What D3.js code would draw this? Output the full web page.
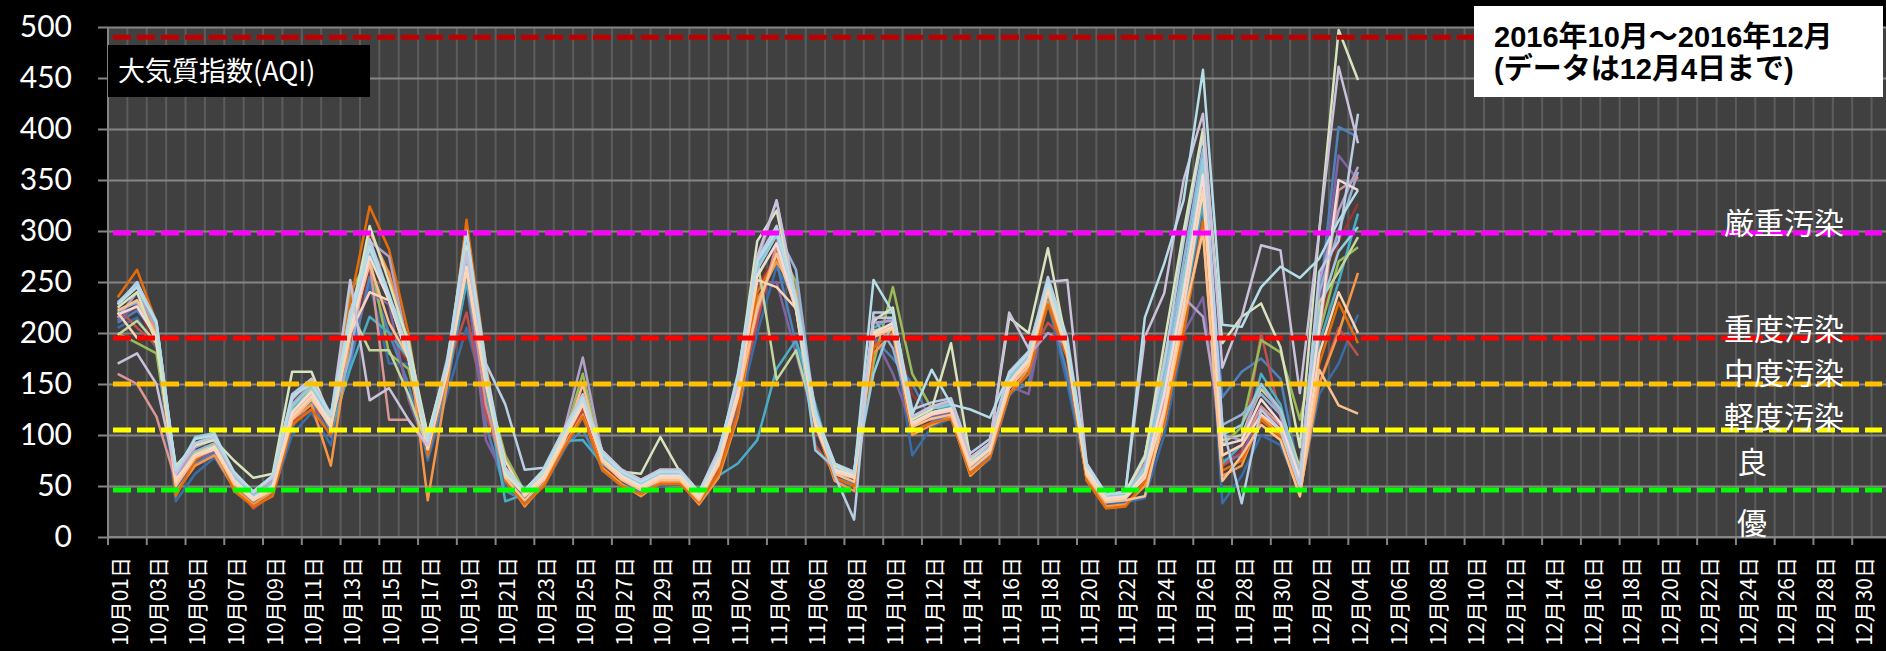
<!DOCTYPE html>
<html><head><meta charset="utf-8">
<script src="https://cdn.jsdelivr.net/npm/d3@7"></script>
<style>html,body{margin:0;padding:0;background:#000;overflow:hidden}</style>
</head><body>
<svg id="chart" width="1886" height="651"></svg>
<script>
// ---- categories / ticks ----
const months = [["10月",31],["11月",30],["12月",31]];
const dates = [];
months.forEach(([m,n]) => { for (let d = 1; d <= n; d++) dates.push(m + String(d).padStart(2,"0") + "日"); });
const yTicks = [0,50,100,150,200,250,300,350,400,450,500];

// ---- AQI level thresholds ----
const thresholdValues = [490,298,195,150,105,46];
const thresholdColors = ["#C00000","#FF00FF","#FF0000","#FFC000","#FFFF00","#00FF00"];
const levelNames = ["厳重汚染","重度汚染","中度汚染","軽度汚染","良","優"];

// ---- series (daily AQI, 10/01 .. 12/04) ----
const s01 = [210,222,200,45,72,82,50,35,42,108, 132,98,170,255,200,150,78,148,250,110, 45,36,52,88,105,68,52,44,52,56, 36,68,128,240,270,190,108,58,52,195, 175,150,114,118,64,80,142,150,232,160, 58,34,38,66,120,250,360,137,162,175, 155,58,230,402,392];
const s02 = [225,205,188,52,80,88,52,28,42,112, 125,118,205,278,260,182,92,165,220,120, 62,40,58,90,126,72,58,48,55,60, 36,66,132,210,290,232,90,62,58,188, 204,108,120,124,68,86,150,176,210,192, 62,36,40,62,132,228,330,70,82,200, 118,55,150,205,178];
const s03 = [200,190,180,58,82,90,58,38,48,125, 150,112,240,275,180,165,88,160,262,150, 80,44,62,96,160,78,62,52,62,62, 40,78,145,255,288,250,112,66,60,170, 245,160,126,128,72,90,152,172,244,178, 66,38,42,78,175,260,325,90,108,193, 181,115,200,270,284];
const s04 = [212,228,194,50,76,84,54,36,46,118, 138,106,196,240,228,135,84,158,258,95, 58,40,58,92,138,74,58,48,58,58, 38,72,138,248,250,180,108,64,58,198, 160,108,118,122,70,84,148,140,238,182, 64,38,40,58,130,200,235,75,80,125, 105,50,220,374,350];
const s05 = [220,232,205,52,92,100,58,40,55,128, 142,104,165,216,200,175,82,155,250,145, 35,42,60,94,95,72,58,48,56,58, 38,60,72,95,165,193,130,62,58,205, 215,110,122,128,70,82,152,175,236,185, 62,38,40,62,115,220,330,72,90,160, 130,55,190,250,317];
const s06 = [228,245,200,44,70,80,48,32,45,115, 130,70,195,300,258,190,36,150,290,160, 58,30,52,88,120,68,52,40,54,54, 32,58,118,232,270,240,112,55,45,180, 200,100,110,118,60,78,140,165,230,176, 56,30,32,50,110,210,300,60,70,118, 100,42,150,200,259];
const s07 = [235,262,210,40,75,92,45,30,40,110, 125,100,230,324,282,200,80,160,311,170, 55,32,50,86,118,66,50,42,52,52, 34,62,120,240,275,235,110,58,50,185, 205,104,112,116,62,78,140,160,228,175, 55,28,30,55,112,200,310,65,75,115, 98,40,170,230,190];
const s08 = [205,215,185,35,62,78,48,34,42,100, 122,90,180,248,170,170,75,140,205,135, 50,34,50,84,118,65,50,42,50,52, 36,64,120,200,265,230,115,55,50,180, 200,80,108,116,62,76,138,160,230,150, 60,32,34,38,100,195,320,33,60,100, 90,45,140,170,218];
const s09 = [222,230,198,56,84,92,56,40,52,130, 150,112,178,288,232,178,92,170,292,160, 64,44,62,100,135,80,62,52,62,62, 40,80,148,265,300,262,118,70,62,215, 185,118,128,130,76,90,158,178,248,190, 68,40,42,70,160,270,380,110,120,140, 120,62,240,300,358];
const s10 = [160,150,118,55,80,86,56,38,48,118, 140,112,198,270,115,115,88,162,262,130, 60,42,58,94,130,76,60,50,60,60, 40,76,142,220,285,222,108,66,62,200, 206,110,120,124,70,85,150,172,250,178, 64,38,40,60,130,230,350,80,90,128, 110,58,200,340,353];
const s11 = [198,212,190,60,82,90,60,40,50,122, 145,112,222,183,183,140,88,165,265,152, 62,42,62,98,132,78,62,52,62,62, 42,78,142,272,154,183,112,66,62,202, 208,112,122,126,72,86,150,172,242,182, 66,40,42,64,150,245,360,95,100,145, 125,68,230,260,294];
const s12 = [215,240,205,58,88,96,60,42,55,130, 150,118,215,290,275,185,95,175,280,160, 66,46,66,102,176,82,64,54,64,64, 42,82,150,270,330,230,120,70,62,210, 212,118,128,132,78,92,158,178,200,188, 70,40,42,72,140,235,216,100,95,150, 120,62,250,320,363];
const s13 = [230,248,212,62,98,102,60,40,52,128, 148,115,210,282,235,195,90,168,275,155, 62,44,62,98,134,80,62,52,62,62, 40,80,146,262,296,226,85,68,60,160, 212,116,126,130,74,88,156,176,246,186, 68,40,42,68,150,255,370,100,110,150, 125,60,220,280,304];
const s14 = [222,232,198,50,78,86,52,36,46,115, 135,108,200,268,210,176,86,160,262,150, 58,36,56,92,150,74,56,46,56,56, 36,70,136,225,278,224,110,62,54,196, 204,108,116,120,66,82,146,168,240,180, 60,34,36,40,120,215,300,55,80,110, 95,40,164,129,121];
const s15 = [228,250,210,65,90,96,62,45,60,140, 155,120,220,292,238,182,100,172,300,170, 130,66,68,105,138,85,66,56,66,66, 44,85,152,272,305,235,125,60,17,220, 220,125,132,136,82,96,162,182,255,195, 72,42,44,80,170,290,395,110,33,125, 105,50,260,290,415];
const s16 = [218,226,195,56,80,88,56,38,50,122, 142,112,202,275,232,175,88,165,265,152, 62,42,60,96,132,76,60,50,60,60, 40,76,142,256,288,224,112,66,60,200, 210,112,122,126,72,86,152,174,244,184, 66,38,40,62,140,240,355,90,95,135, 112,58,205,350,340];
const s17 = [225,240,190,70,90,95,75,58,62,162, 162,115,210,305,250,190,100,170,285,158, 60,46,64,100,136,84,64,62,98,64, 42,82,155,290,320,230,120,70,62,212, 225,115,125,190,76,92,215,200,283,185, 70,42,44,78,190,300,400,190,216,229, 186,88,300,497,448];
const s18 = [170,180,150,62,92,98,62,44,58,135, 155,118,252,134,146,115,90,170,280,165, 68,46,66,104,140,84,66,56,66,66, 44,84,150,275,330,235,122,72,64,215, 215,118,128,134,78,92,220,185,250,252, 72,42,44,196,239,350,415,166,216,286, 281,141,300,461,386];
const s19 = [228,245,210,66,96,100,64,44,60,138, 150,120,215,285,236,180,95,170,300,162, 66,46,66,102,136,82,64,54,64,64, 44,80,160,270,300,232,120,72,62,252, 220,120,164,130,125,117,160,180,250,190, 70,42,44,215,268,330,458,208,206,245, 265,254,273,310,340];
const s20 = [220,195,196,54,80,86,54,36,48,118, 138,108,200,240,232,176,86,162,262,150, 75,40,58,94,130,76,58,48,58,58, 38,72,138,252,245,224,110,64,58,198, 206,110,120,124,70,86,150,172,244,180, 62,36,38,58,125,225,340,80,90,120, 105,50,180,240,200];
const s21 = [215,225,190,50,74,84,50,34,44,112, 130,104,192,262,195,172,80,155,255,105, 56,38,56,90,124,70,56,46,56,56, 36,66,132,246,276,226,108,60,56,192, 206,140,116,120,66,82,146,168,238,155, 60,34,36,58,118,220,320,70,85,125, 108,48,200,290,327];

const series = [s21,s08,s01,s02,s03,s04,s05,s06,s07,s09,s10,s11,s12,s13,s14,s16,s20,s15,s17,s18,s19];
const seriesColors = ["#953735","#3A6CA8","#4F81BD","#C0504D","#9BBB59","#8064A2","#4BACC6","#F79646","#E46C0A",
  "#95B3D7","#D99694","#C3D69B","#B3A2C7","#93CDDD","#FAC090","#F2DCDB","#FCD5B5","#B9CDE5","#D7E4BD","#CCC1DA","#B7DEE8"];

// ---- drawing ----
const W = 1886, H = 651;
const pLeft = 108, pTop = 27, pBottom = 537, pRight = 108 + 92 * 19.38;
const svg = d3.select("#chart");
svg.append("rect").attr("width", W).attr("height", H).attr("fill", "#000");

const x = d3.scaleBand().domain(dates).range([pLeft, pRight]).paddingInner(0).paddingOuter(0);
const y = d3.scaleLinear().domain([0, 500]).range([pBottom, pTop]);
const bw = x.bandwidth();

svg.append("rect").attr("x", pLeft).attr("y", pTop).attr("width", pRight - pLeft).attr("height", pBottom - pTop).attr("fill", "#404040");

// vertical grid at category boundaries
svg.append("g").selectAll("line").data(dates.slice(1)).join("line")
  .attr("x1", d => x(d)).attr("x2", d => x(d)).attr("y1", pTop).attr("y2", pBottom)
  .attr("stroke", "#5c5c5c").attr("stroke-width", 2);

// horizontal grid + y labels
const yAxis = d3.axisLeft(y).tickValues(yTicks).tickSize(0).tickPadding(36).tickFormat(d3.format("d"));
const gy = svg.append("g").attr("transform", `translate(${pLeft},0)`).call(yAxis);
gy.select(".domain").remove();
gy.selectAll(".tick line").attr("x1", -10).attr("x2", pRight - pLeft).attr("stroke", "#858585").attr("stroke-width", 2);
gy.selectAll(".tick text").attr("fill", "#fff").style("font-family", "Lato, 'Open Sans', sans-serif").style("font-size", "30px");

// left axis line and bottom axis
svg.append("line").attr("x1", pLeft).attr("x2", pLeft).attr("y1", pTop).attr("y2", pBottom).attr("stroke", "#858585").attr("stroke-width", 2);
svg.append("line").attr("x1", pLeft).attr("x2", pRight).attr("y1", pBottom).attr("y2", pBottom).attr("stroke", "#858585").attr("stroke-width", 2);

// x ticks at every second boundary
svg.append("g").selectAll("line").data(dates.filter((d, i) => i % 2 === 0)).join("line")
  .attr("x1", d => x(d)).attr("x2", d => x(d)).attr("y1", pBottom).attr("y2", pBottom + 8)
  .attr("stroke", "#858585").attr("stroke-width", 2);

// x labels (every second day)
svg.append("g").selectAll("text").data(dates.filter((d, i) => i % 2 === 0)).join("text")
  .attr("transform", d => `translate(${x(d) + bw / 2 + 1},557) rotate(-90)`)
  .attr("text-anchor", "end").attr("dominant-baseline", "central")
  .attr("fill", "#fff").style("font-family", "'Noto Sans CJK JP', sans-serif").style("font-size", "21px")
  .text(d => d);

// data lines
svg.append("clipPath").attr("id", "plotclip").append("rect")
  .attr("x", pLeft).attr("y", 0).attr("width", pRight - pLeft).attr("height", pBottom);
const line = d3.line().defined(v => v != null).x((v, i) => x(dates[i]) + bw / 2).y(v => y(v));
svg.append("g").attr("clip-path", "url(#plotclip)").selectAll("path").data(series).join("path")
  .attr("d", d => line(d)).attr("fill", "none")
  .attr("stroke", (d, i) => seriesColors[i]).attr("stroke-width", 2.5).attr("stroke-linejoin", "round");

// threshold dashed lines
svg.append("g").selectAll("line").data(thresholdValues).join("line")
  .attr("x1", pLeft + 5).attr("x2", 1882).attr("y1", d => y(d)).attr("y2", d => y(d))
  .attr("stroke", (d, i) => thresholdColors[i]).attr("stroke-width", 5).attr("stroke-dasharray", "18 6");

// level labels
const levelX = [1784, 1784, 1784, 1784, 1752, 1752];
const levelY = [221, 327, 371, 415, 460, 521];
svg.append("g").selectAll("text").data(levelNames).join("text")
  .attr("x", (d, i) => levelX[i]).attr("y", (d, i) => levelY[i])
  .attr("text-anchor", "middle").attr("dominant-baseline", "central")
  .attr("fill", "#fff").style("font-family", "'Noto Sans CJK JP', sans-serif").style("font-size", "30px")
  .text(d => d);

// title box
svg.append("rect").attr("x", pLeft).attr("y", 45).attr("width", 262).attr("height", 52).attr("fill", "#000");
svg.append("text").attr("x", 118).attr("y", 81).attr("fill", "#fff")
  .style("font-family", "'Noto Sans CJK JP', sans-serif").style("font-size", "27px").text("大気質指数(AQI)");

// period box
svg.append("rect").attr("x", 1474).attr("y", 6).attr("width", 409).attr("height", 91).attr("fill", "#fff");
const pb = svg.append("text").attr("fill", "#000").style("font-family", "'Liberation Sans', 'Noto Sans CJK JP', sans-serif")
  .style("font-size", "29px").style("font-weight", "bold");
pb.append("tspan").attr("x", 1494).attr("y", 47).text("2016年10月～2016年12月");
pb.append("tspan").attr("x", 1494).attr("y", 79).text("(データは12月4日まで)");
</script>
</body></html>
